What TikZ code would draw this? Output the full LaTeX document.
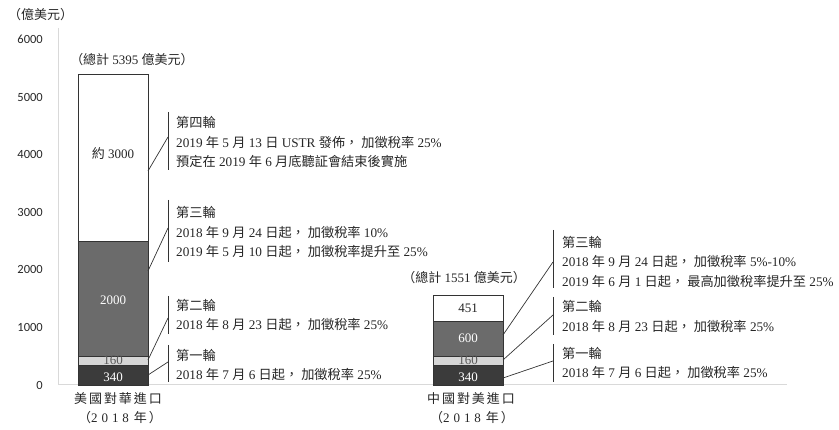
\documentclass[tikz,border=0pt]{standalone}
\usepackage{fontspec}
\setmainfont{Liberation Serif}
\newfontfamily\zhfont{Noto Sans CJK TC}
\newfontfamily\zhwide[LetterSpace=15]{Noto Sans CJK TC}
\newfontfamily\serifwide[LetterSpace=30]{Liberation Serif}
\newfontfamily\axfont{Carlito}
\newcommand\zh[1]{{\zhfont #1}}
\newcommand\cm{\hspace{3pt}}
\definecolor{segdark}{HTML}{3B3B3B}
\definecolor{segmid}{HTML}{6B6B6B}
\definecolor{seglight}{HTML}{D6D6D6}
\definecolor{axisgrey}{HTML}{D9D9D9}
\definecolor{linegrey}{HTML}{333333}
\tikzset{
 seg/.style={draw=linegrey, line width=0.8pt},
 axisline/.style={draw=axisgrey, line width=1pt},
 tick/.style={font=\axfont\fontsize{12.5}{15}\selectfont, anchor=east, inner sep=0pt, text=black!85},
 note/.style={anchor=west, align=left, inner sep=0pt, font=\fontsize{13.2}{19.5}\selectfont, text=black!85},
 lead/.style={draw=linegrey, line width=0.7pt},
 brk/.style={draw=linegrey, line width=0.9pt},
 barlbl/.style={inner sep=0pt, font=\fontsize{13}{15}\selectfont},
 catlbl/.style={inner sep=0pt, text=black!85, font=\fontsize{13}{15}\selectfont},
}
\begin{document}
\begin{tikzpicture}[x=1pt,y=-1pt]
\useasboundingbox (0,0) rectangle (839,430);
% axes
\draw[axisline] (58,28) -- (58,385) -- (787,385);
\node[catlbl, anchor=west] (unit) at (8,15) {\zh{（億美元）}};
\node[tick] (t0) at (43,385) {0};
\node[tick] (t1) at (43,327.4) {1000};
\node[tick] (t2) at (43,269.8) {2000};
\node[tick] (t3) at (43,212.2) {3000};
\node[tick] (t4) at (43,154.6) {4000};
\node[tick] (t5) at (43,97) {5000};
\node[tick] (t6) at (43,39.4) {6000};
% bar 1
\path[seg, fill=segdark] (78,385) rectangle (148,365.4);
\path[seg, fill=seglight] (78,365.4) rectangle (148,356.2);
\path[seg, fill=segmid] (78,356.2) rectangle (148,241);
\path[seg, fill=white] (78,241) rectangle (148,74.2);
\node[barlbl, text=white] (a340) at (113,377) {340};
\node[barlbl, text=black!65] (a160) at (113,360) {160};
\node[barlbl, text=white] (a2000) at (113,300) {2000};
\node[barlbl, text=black!85] (a3000) at (113,154) {\zh{約} 3000};
\node[catlbl] (atot) at (132,60) {\zh{（總計} 5395 \zh{億美元）}};
% bar 2
\path[seg, fill=segdark] (433,385) rectangle (503,365.4);
\path[seg, fill=seglight] (433,365.4) rectangle (503,356.2);
\path[seg, fill=segmid] (433,356.2) rectangle (503,321.6);
\path[seg, fill=white] (433,321.6) rectangle (503,295.7);
\node[barlbl, text=white] (b340) at (468,377) {340};
\node[barlbl, text=black!65] (b160) at (468,360) {160};
\node[barlbl, text=white] (b600) at (468,338.5) {600};
\node[barlbl, text=black!85] (b451) at (468,308.6) {451};
\node[catlbl] (btot) at (464,278) {\zh{（總計} 1551 \zh{億美元）}};
% category labels
\node[catlbl] (acat) at (118,399) {\zhwide 美國對華進口};
\node[catlbl] (ayr) at (120,418) {\zhwide （{\serifwide 2018} 年）};
\node[catlbl] (bcat) at (471,399) {\zhwide 中國對美進口};
\node[catlbl] (byr) at (472,418) {\zhwide （{\serifwide 2018} 年）};
% bar 1 annotations
\node[note] (n14) at (176,142) {\zh{第四輪}\\
2019 \zh{年} 5 \zh{月} 13 \zh{日} USTR \zh{發佈，}\cm \zh{加徵稅率} 25\%\\
\zh{預定在} 2019 \zh{年} 6 \zh{月底聽証會結束後實施}};
\node[note] (n13) at (176,232) {\zh{第三輪}\\
2018 \zh{年} 9 \zh{月} 24 \zh{日起，}\cm \zh{加徵稅率} 10\%\\
2019 \zh{年} 5 \zh{月} 10 \zh{日起，}\cm \zh{加徵稅率提升至} 25\%};
\node[note] (n12) at (176,315) {\zh{第二輪}\\
2018 \zh{年} 8 \zh{月} 23 \zh{日起，}\cm \zh{加徵稅率} 25\%};
\node[note] (n11) at (176,365) {\zh{第一輪}\\
2018 \zh{年} 7 \zh{月} 6 \zh{日起，}\cm \zh{加徵稅率} 25\%};
% bar 2 annotations
\node[note] (n23) at (562,261.5) {\zh{第三輪}\\
2018 \zh{年} 9 \zh{月} 24 \zh{日起，}\cm \zh{加徵稅率} 5\%-10\%\\
2019 \zh{年} 6 \zh{月} 1 \zh{日起，}\cm \zh{最高加徵稅率提升至} 25\%};
\node[note] (n22) at (562,316.5) {\zh{第二輪}\\
2018 \zh{年} 8 \zh{月} 23 \zh{日起，}\cm \zh{加徵稅率} 25\%};
\node[note] (n21) at (562,363) {\zh{第一輪}\\
2018 \zh{年} 7 \zh{月} 6 \zh{日起，}\cm \zh{加徵稅率} 25\%};
% brackets and leaders, bar 1
\coordinate (k14a) at (168,112); \coordinate (k14b) at (168,170);
\coordinate (k13a) at (168,200); \coordinate (k13b) at (168,262);
\coordinate (k12a) at (168,296); \coordinate (k12b) at (168,334);
\coordinate (k11a) at (168,345); \coordinate (k11b) at (168,382);
\draw[brk] (k14a) -- (k14b);
\draw[brk] (k13a) -- (k13b);
\draw[brk] (k12a) -- (k12b);
\draw[brk] (k11a) -- (k11b);
\coordinate (s14) at (148,171); \coordinate (e14) at (168,137);
\coordinate (s13) at (148,271); \coordinate (e13) at (168,228);
\coordinate (s12) at (148,360); \coordinate (e12) at (168,318);
\coordinate (s11) at (148,375); \coordinate (e11) at (168,362);
\draw[lead] (s14) -- (e14);
\draw[lead] (s13) -- (e13);
\draw[lead] (s12) -- (e12);
\draw[lead] (s11) -- (e11);
% brackets and leaders, bar 2
\coordinate (k23a) at (553,230); \coordinate (k23b) at (553,288);
\coordinate (k22a) at (553,297); \coordinate (k22b) at (553,335);
\coordinate (k21a) at (553,344); \coordinate (k21b) at (553,382);
\draw[brk] (k23a) -- (k23b);
\draw[brk] (k22a) -- (k22b);
\draw[brk] (k21a) -- (k21b);
\coordinate (s23) at (503,335); \coordinate (e23) at (553,262);
\coordinate (s22) at (503,360); \coordinate (e22) at (553,315);
\coordinate (s21) at (503,378); \coordinate (e21) at (553,361);
\draw[lead] (s23) -- (e23);
\draw[lead] (s22) -- (e22);
\draw[lead] (s21) -- (e21);
\end{tikzpicture}
\end{document}
